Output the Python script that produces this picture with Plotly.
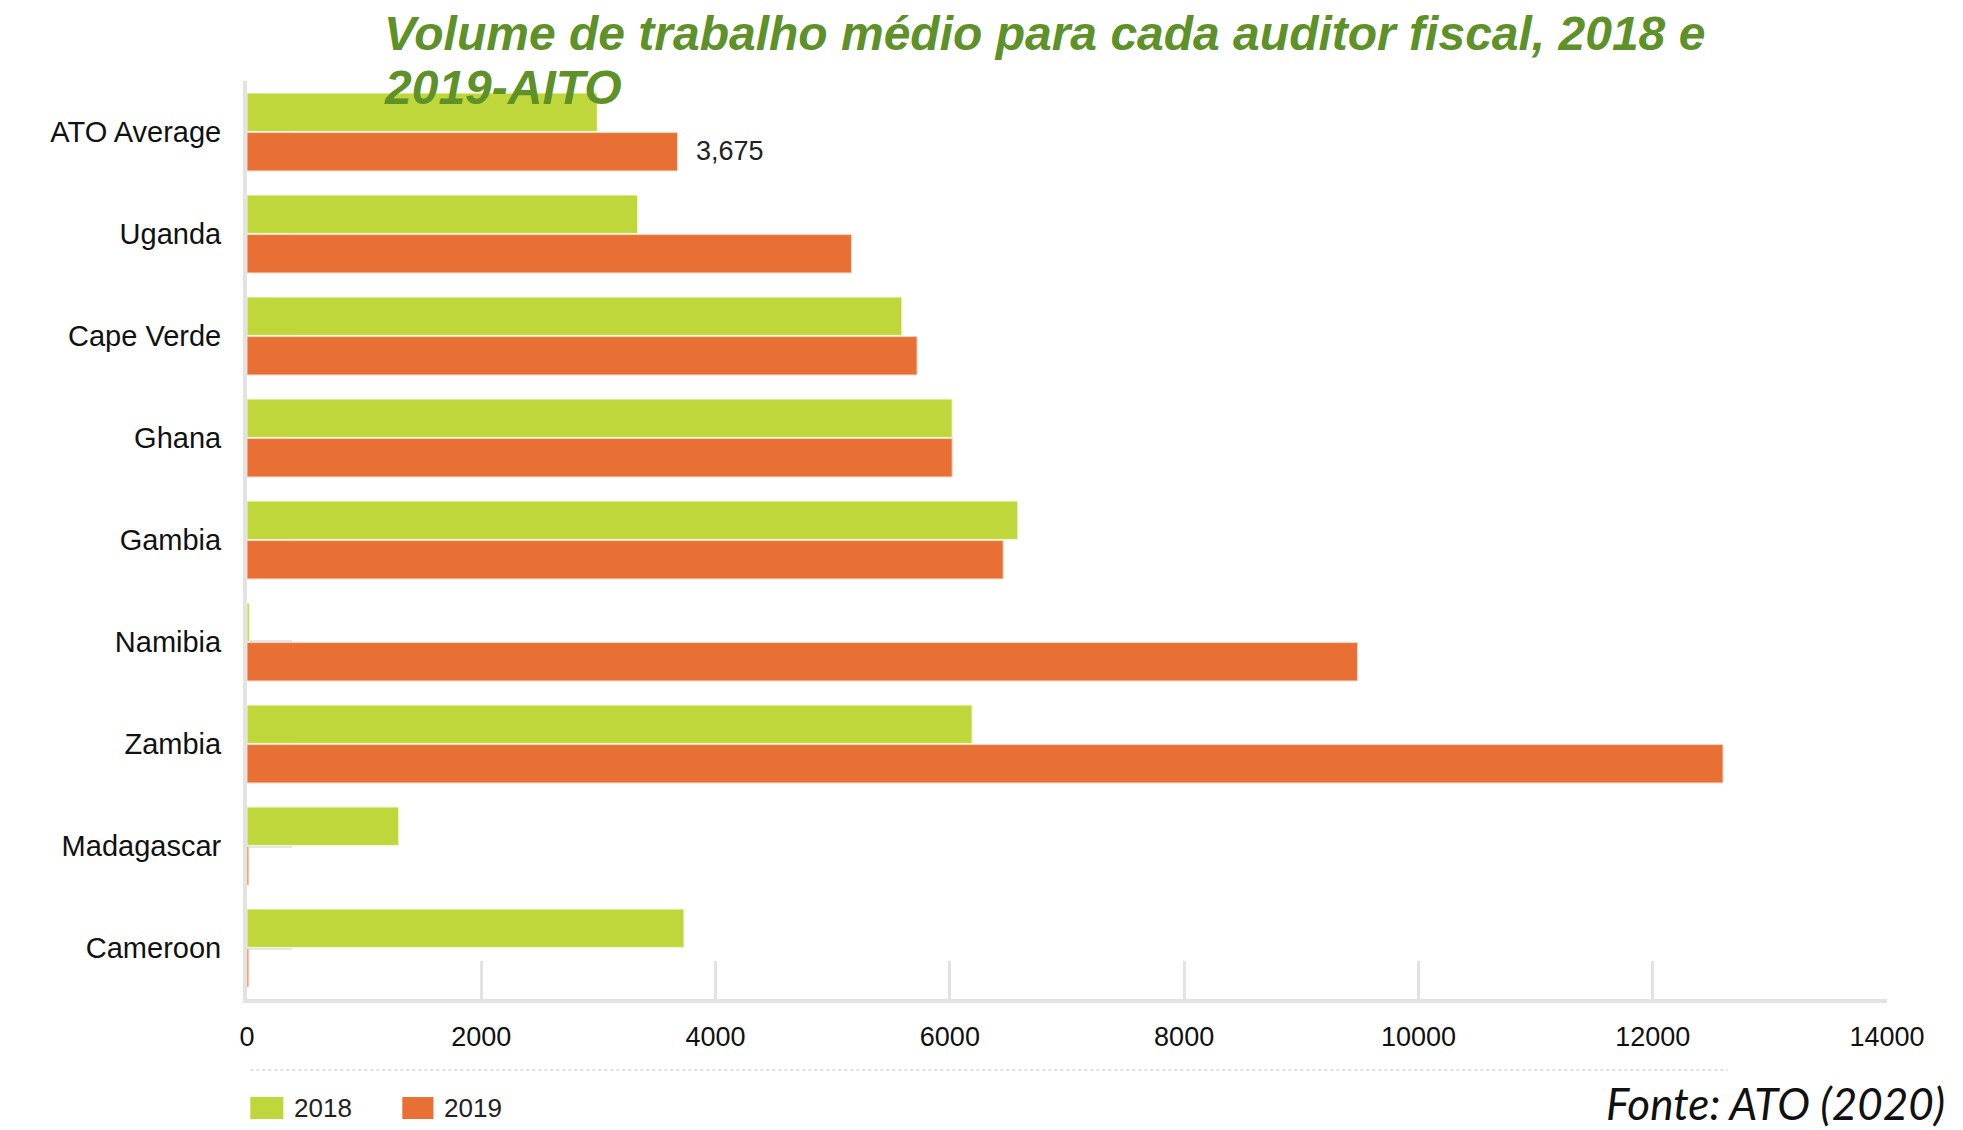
import plotly.graph_objects as go

categories = ["ATO Average", "Uganda", "Cape Verde", "Ghana", "Gambia",
              "Namibia", "Zambia", "Madagascar", "Cameroon"]
values_2018 = [2990, 3335, 5590, 6020, 6580, 20, 6190, 1295, 3730]
values_2019 = [3675, 5160, 5720, 6020, 6455, 9480, 12600, 15, 15]
x_ticks = [0, 2000, 4000, 6000, 8000, 10000, 12000, 14000]
series_names = ["2018", "2019"]
title_lines = ["Volume de trabalho médio para cada auditor fiscal, 2018 e", "2019-AITO"]

GREEN = "#bfd73b"
ORANGE = "#e87034"
TITLE_GREEN = "#5e9128"
AXIS_GREY = "#e3e3e3"

fig = go.Figure()
fig.add_trace(go.Bar(y=categories, x=values_2018, name=series_names[0], orientation="h",
                     marker=dict(color=GREEN, line=dict(color="#f2f7d8", width=1)),
                     showlegend=False))
fig.add_trace(go.Bar(y=categories, x=values_2019, name=series_names[1], orientation="h",
                     marker=dict(color=ORANGE, line=dict(color="#f7d6c4", width=1)),
                     showlegend=False))

fig.update_layout(
    width=1955, height=1122,
    margin=dict(l=239, r=76, t=73, b=131, autoexpand=False),
    paper_bgcolor="white", plot_bgcolor="white",
    barmode="group", bargap=0.225, bargroupgap=0.03,
    font=dict(family="Liberation Sans, Arial, sans-serif", color="#111111"),
    xaxis=dict(
        range=[0, 14000], tickvals=x_ticks, ticktext=[str(v) for v in x_ticks],
        showgrid=False, zeroline=False,
        showline=True, linecolor=AXIS_GREY, linewidth=4,
        ticks="inside", ticklen=38, tickwidth=3, tickcolor=AXIS_GREY,
        tickfont=dict(size=27, color="#111111"), ticklabelstandoff=11,
        layer="below traces", automargin=False,
    ),
    yaxis=dict(
        autorange="reversed", showgrid=False, zeroline=False,
        showline=True, linecolor=AXIS_GREY, linewidth=4,
        ticks="inside", ticklen=45, tickwidth=4, tickcolor="#e6e6e6",
        tickfont=dict(size=29, color="#111111"), ticklabelstandoff=16,
        layer="below traces", automargin=False,
    ),
)

# title (two lines, placed individually)
for line, ypos in zip(title_lines, [1.0512, 0.9924]):
    fig.add_annotation(x=0.0826, y=ypos, xref="paper", yref="paper",
                       text=f"<b><i>{line}</i></b>",
                       showarrow=False, xanchor="left", yanchor="middle", align="left",
                       font=dict(family="Liberation Sans, Arial, sans-serif", size=48,
                                 color=TITLE_GREEN))

# value label on the ATO Average 2019 bar
fig.add_annotation(x=values_2019[0], y=categories[0], xref="x", yref="y",
                   text=f"{values_2019[0]:,}", showarrow=False, xanchor="left",
                   xshift=16, yshift=-19, font=dict(size=27, color="#222222"))

# dotted separator above legend
fig.add_shape(type="line", xref="paper", yref="paper", x0=0.002, x1=0.903,
              y0=-0.0773, y1=-0.0773, line=dict(color="#d6d6d6", width=1.5, dash="dot"))

# custom legend
for (x0, x1, tx), col, name in zip([(0.002, 0.0222, 0.0277), (0.0947, 0.1137, 0.119)],
                                   [GREEN, ORANGE], series_names):
    fig.add_shape(type="rect", xref="paper", yref="paper", x0=x0, x1=x1,
                  y0=-0.1307, y1=-0.1068, fillcolor=col, line=dict(width=0))
    fig.add_annotation(x=tx, y=-0.1187, xref="paper", yref="paper", text=name,
                       showarrow=False, xanchor="left", yanchor="middle",
                       font=dict(size=26, color="#222222"))

# source note
fig.add_annotation(x=1.0368, y=-0.1133, xref="paper", yref="paper",
                   text="<i>Fonte: ATO (2020)</i>", showarrow=False,
                   xanchor="right", yanchor="middle",
                   font=dict(family="Lato, sans-serif", size=44, color="#111111"))

fig.write_html("out.html")
